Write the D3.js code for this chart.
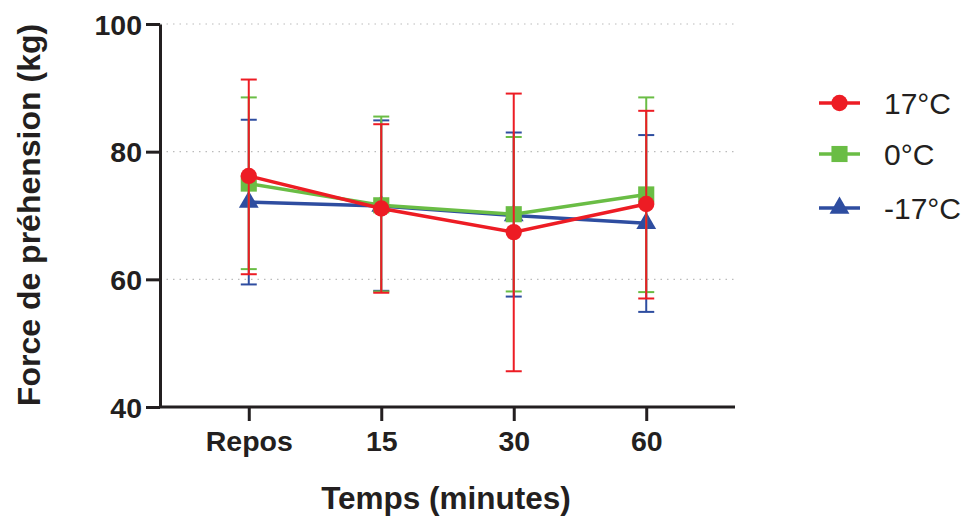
<!DOCTYPE html>
<html><head><meta charset="utf-8">
<script src="https://cdn.jsdelivr.net/npm/d3@7"></script>
<style>body{margin:0;background:#fff}svg{display:block}text{font-family:"Liberation Sans",Arial,sans-serif}</style>
</head><body>
<svg id="c" width="972" height="523"></svg>
<script>
const categories = ["Repos", "15", "30", "60"];
const seriesNames = ["17°C", "0°C", "-17°C"];
const mean17 = [76.2, 71.1, 67.4, 71.8];
const up17 = [91.3, 84.3, 89.1, 86.4];
const low17 = [60.8, 57.9, 45.6, 57.0];
const mean0 = [75.0, 71.6, 70.2, 73.3];
const up0 = [88.5, 85.5, 82.3, 88.5];
const low0 = [61.6, 58.1, 58.1, 58.0];
const meanM17 = [72.1, 71.5, 70.0, 68.8];
const upM17 = [85.0, 84.9, 83.0, 82.6];
const lowM17 = [59.2, 58.2, 57.3, 54.9];
const yTicks = [40, 60, 80, 100];
const gridValues = [60, 80, 100];

const colors = {"17°C":"#ED1C24","0°C":"#6ABD45","-17°C":"#2E4DA0"};
const symbols = {"17°C":d3.symbolCircle,"0°C":d3.symbolSquare,"-17°C":d3.symbolTriangle};
const symSize = {"17°C":210,"0°C":260,"-17°C":170};
const series = [
  {name:"-17°C", mean:meanM17, up:upM17, low:lowM17},
  {name:"0°C", mean:mean0, up:up0, low:low0},
  {name:"17°C", mean:mean17, up:up17, low:low17}
];

const svg = d3.select("#c");
const x = d3.scalePoint().domain(categories).range([160,735]).padding(0.67);
const y = d3.scaleLinear().domain([40,100]).range([407,24]);

// grid
svg.append("g").selectAll("line").data(gridValues).join("line")
  .attr("x1",160).attr("x2",735).attr("y1",d=>y(d)).attr("y2",d=>y(d))
  .attr("stroke","#bbb").attr("stroke-width",1.2).attr("stroke-dasharray","1.5,5");

// axes
const ya = svg.append("g").attr("transform","translate(160,0)")
  .call(d3.axisLeft(y).tickValues(yTicks).tickSize(14).tickPadding(4).tickSizeOuter(0));
const xa = svg.append("g").attr("transform","translate(0,407)")
  .call(d3.axisBottom(x).tickSize(14).tickPadding(10).tickSizeOuter(0));
[ya,xa].forEach(a=>{
  a.select(".domain").attr("stroke","#231f20").attr("stroke-width",3);
  a.selectAll(".tick line").attr("stroke","#231f20").attr("stroke-width",3);
  a.selectAll("text").attr("fill","#231f20").style("font-size","28.5px").style("font-weight","bold");
});
xa.select(".domain").attr("d","M160,0H735");
ya.selectAll("text").attr("dy","0.36em");

// series
series.forEach(s=>{
  const c = colors[s.name];
  const g = svg.append("g");
  categories.forEach((cat,i)=>{
    const cx = x(cat);
    g.append("line").attr("x1",cx).attr("x2",cx).attr("y1",y(s.up[i])).attr("y2",y(s.low[i]))
      .attr("stroke",c).attr("stroke-width",2);
    [s.up[i], s.low[i]].forEach(v=>{
      g.append("line").attr("x1",cx-8).attr("x2",cx+8).attr("y1",y(v)).attr("y2",y(v))
        .attr("stroke",c).attr("stroke-width",2);
    });
  });
  g.append("path").datum(s.mean)
    .attr("d", d3.line().x((d,i)=>x(categories[i])).y(d=>y(d)))
    .attr("fill","none").attr("stroke",c).attr("stroke-width",3.5);
  g.selectAll(".m").data(s.mean).join("path")
    .attr("transform",(d,i)=>`translate(${x(categories[i])},${y(d)})`)
    .attr("d", d3.symbol().type(symbols[s.name]).size(symSize[s.name])).attr("fill",c);
});

// legend
const leg = svg.append("g");
const legOrder = ["17°C","0°C","-17°C"];
const legY = [103,154,208];
legOrder.forEach((n,i)=>{
  const gy = legY[i];
  leg.append("line").attr("x1",819).attr("x2",860).attr("y1",gy).attr("y2",gy)
    .attr("stroke",colors[n]).attr("stroke-width",3.5);
  leg.append("path").attr("transform",`translate(839.5,${gy})`)
    .attr("d",d3.symbol().type(symbols[n]).size(symSize[n])).attr("fill",colors[n]);
  leg.append("text").attr("x",884).attr("y",gy+11).text(n)
    .style("font-size","30px").attr("fill","#231f20");
});

// titles
svg.append("text").attr("x",446).attr("y",509).attr("text-anchor","middle")
  .style("font-size","31.5px").style("font-weight","bold").attr("fill","#231f20").text("Temps (minutes)");
svg.append("text").attr("transform","translate(40,215) rotate(-90)").attr("text-anchor","middle")
  .style("font-size","32px").style("font-weight","bold").attr("fill","#231f20").text("Force de préhension (kg)");
</script>
</body></html>
